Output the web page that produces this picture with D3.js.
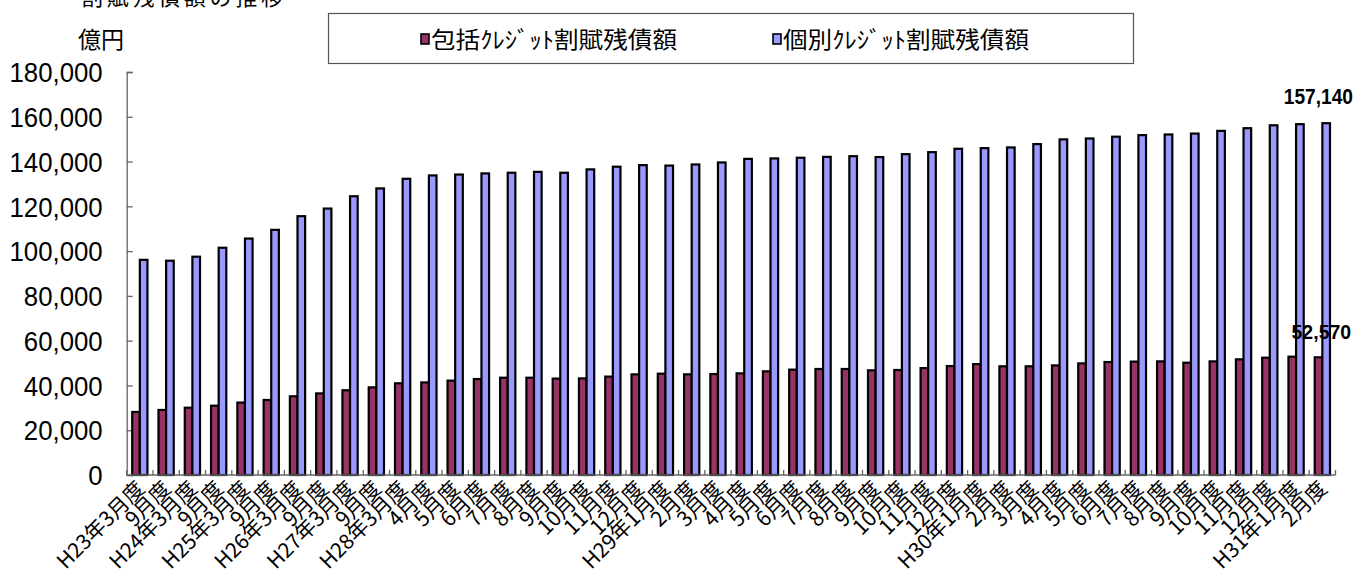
<!DOCTYPE html>
<html><head><meta charset="utf-8">
<script src="https://cdn.jsdelivr.net/npm/d3@7/dist/d3.min.js"></script>
<style>
html,body{margin:0;padding:0;background:#fff;}
svg{display:block;}
</style></head>
<body>
<svg id="chart" width="1369" height="578"></svg>
<script>
const categories = ["H23年3月度","9月度","H24年3月度","9月度","H25年3月度","9月度","H26年3月度","9月度","H27年3月度","9月度","H28年3月度",
"4月度","5月度","6月度","7月度","8月度","9月度","10月度","11月度","12月度",
"H29年1月度","2月度","3月度","4月度","5月度","6月度","7月度","8月度","9月度","10月度","11月度","12月度",
"H30年1月度","2月度","3月度","4月度","5月度","6月度","7月度","8月度","9月度","10月度","11月度","12月度",
"H31年1月度","2月度"];
const seriesNames = ["包括ｸﾚｼﾞｯﾄ割賦残債額","個別ｸﾚｼﾞｯﾄ割賦残債額"];
const comprehensive = [28150,29050,30050,30950,32350,33500,35150,36450,37850,39150,40950,41350,42150,42850,43450,43450,43050,43150,43950,44950,45250,44950,45100,45400,46300,47050,47350,47350,46750,46900,47750,48650,49550,48550,48550,48950,49850,50450,50650,50750,50150,50750,51650,52400,52850,52570];
const individual = [96100,95700,97500,101500,105600,109500,115600,119000,124500,128000,132300,133800,134200,134700,135000,135400,135000,136500,137700,138400,138200,138700,139600,141200,141400,141700,142100,142400,142000,143300,144200,145700,146000,146300,147800,149900,150300,151100,151800,152100,152500,153700,154900,156200,156700,157140];
const yTicks = [0,20000,40000,60000,80000,100000,120000,140000,160000,180000];
const colors = ["#993366","#9999FF"];

(function(){
const svg = d3.select("#chart");
const pL = 126.7, pR = 1335.5, pT = 72, pB = 475;

const x = d3.scaleBand().domain(d3.range(categories.length)).range([pL, pR]).paddingInner(0).paddingOuter(0);
const groupW = x.bandwidth() * 0.58;
const xs = d3.scaleBand().domain([0,1]).range([0, groupW]);
const y = d3.scaleLinear().domain([0,180000]).range([pB, pT]);
const fmt = d3.format(",");
const arialW = s => [...s].reduce((a,c)=>a+(c===','?0.278:0.556),0);

// title (cut off at top, as in the source image)
svg.append("text").attr("x", 81).attr("y", 5)
  .attr("font-family","'Noto Sans CJK JP'").attr("font-size", 22).attr("fill","#000")
  .attr("textLength", 202).attr("lengthAdjust","spacing")
  .text("割賦残債額の推移");

// unit
svg.append("text").attr("x", 78).attr("y", 48)
  .attr("font-family","'Noto Sans CJK JP'").attr("font-size", 23).attr("fill","#000")
  .text("億円");

// legend
const lg = svg.append("g");
lg.append("rect").attr("x", 328.5).attr("y", 13.5).attr("width", 805).attr("height", 50)
  .attr("fill","#fff").attr("stroke","#555").attr("stroke-width",1.2);
const legX = [421, 773];
seriesNames.forEach((n,i)=>{
  lg.append("rect").attr("x", legX[i]).attr("y", 34).attr("width", 8).attr("height", 10)
    .attr("fill", colors[i]).attr("stroke","#000").attr("stroke-width",1.6);
  lg.append("text").attr("x", legX[i]+10).attr("y", 48)
    .attr("font-family","'Noto Sans CJK JP'").attr("font-size", 23).attr("fill","#000")
    .attr("textLength", 246).attr("lengthAdjust","spacingAndGlyphs")
    .text(n);
});

// y axis
const yAxis = d3.axisLeft(y).tickValues(yTicks).tickSize(-6).tickPadding(0).tickFormat(fmt);
const ya = svg.append("g").attr("transform", `translate(${pL},0)`).call(yAxis);
ya.select(".domain").attr("stroke","#666").attr("stroke-width",1.3);
ya.selectAll(".tick line").attr("stroke","#666").attr("stroke-width",1.3);
ya.selectAll(".tick text").attr("x", -24).attr("font-family","'Liberation Sans', Arial, sans-serif")
  .attr("font-size", 27).attr("fill","#000").attr("text-anchor","end").attr("dy","0.36em")
  .attr("lengthAdjust","spacingAndGlyphs")
  .attr("textLength", d => arialW(fmt(d)) * 25.8);

// bars
const groups = svg.append("g").selectAll("g").data(categories.map((c,i)=>i)).join("g")
  .attr("transform", i => `translate(${x(i) + (x.bandwidth()-groupW)/2},0)`);
groups.append("rect").attr("x", xs(0)).attr("width", xs.bandwidth())
  .attr("y", i => y(comprehensive[i])).attr("height", i => pB - y(comprehensive[i]))
  .attr("fill", colors[0]).attr("stroke","#000").attr("stroke-width",2.2);
groups.append("rect").attr("x", xs(1)).attr("width", xs.bandwidth())
  .attr("y", i => y(individual[i])).attr("height", i => pB - y(individual[i]))
  .attr("fill", colors[1]).attr("stroke","#000").attr("stroke-width",2.2);

// x axis
const xa = svg.append("g").attr("transform", `translate(0,${pB})`);
xa.append("line").attr("x1", pL).attr("x2", pR).attr("stroke","#666").attr("stroke-width",1.3);
d3.range(categories.length+1).forEach(i=>{
  const xx = i < categories.length ? x(i) : pR;
  xa.append("line").attr("x1", xx).attr("x2", xx).attr("y1", 0).attr("y2", -5)
    .attr("stroke","#666").attr("stroke-width",1.3);
});
categories.forEach((c,i)=>{
  const cx = x(i) + x.bandwidth()/2 + 6;
  xa.append("text").attr("transform", `translate(${cx},${15}) rotate(-45)`)
    .attr("text-anchor","end").attr("font-family","'Noto Sans CJK JP'").attr("font-size", 21)
    .attr("fill","#000").text(c);
});

// data labels
const last = categories.length - 1;
const lc = x(last) + x.bandwidth()/2;
svg.append("text").attr("transform", `translate(${lc-4},${104}) scale(0.87,1)`)
  .attr("text-anchor","middle").attr("font-family","'Liberation Sans', Arial, sans-serif")
  .attr("font-weight","bold").attr("font-size", 22).attr("fill","#000").text(fmt(individual[last]));
svg.append("text").attr("transform", `translate(${lc-1},${339}) scale(0.93,1)`)
  .attr("text-anchor","middle").attr("font-family","'Liberation Sans', Arial, sans-serif")
  .attr("font-weight","bold").attr("font-size", 21).attr("fill","#000").text(fmt(comprehensive[last]));
})();
</script>
</body></html>
